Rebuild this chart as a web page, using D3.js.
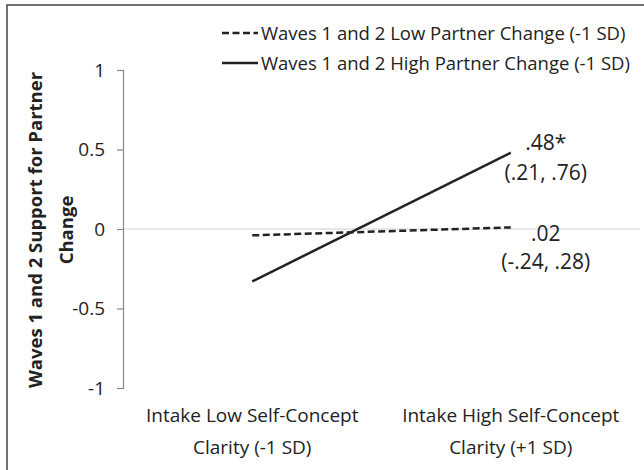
<!DOCTYPE html>
<html><head><meta charset="utf-8">
<script src="https://cdn.jsdelivr.net/npm/d3@7"></script>
<style>body{margin:0;background:#fff}svg{display:block}text{font-family:"Open Sans",sans-serif;fill:#222}</style>
</head><body><svg id="c" width="644" height="470"></svg>
<script>
const categories = ["Intake Low Self-Concept|Clarity (-1 SD)", "Intake High Self-Concept|Clarity (+1 SD)"];
const seriesNames = ["Waves 1 and 2 Low Partner Change (-1 SD)", "Waves 1 and 2 High Partner Change (-1 SD)"];
const lowChange = [-0.04, 0.01];
const highChange = [-0.33, 0.48];
const labelLow = [".02", "(-.24, .28)"];
const labelHigh = [".48*", "(.21, .76)"];
const yTicks = [-1, -0.5, 0, 0.5, 1];
const yTickLabels = ["-1", "-0.5", "0", "0.5", "1"];

const svg = d3.select("#c");
svg.append("rect").attr("x",7).attr("y",5).attr("width",700).attr("height",500)
  .attr("fill","none").attr("stroke","#444").attr("stroke-width",1.5);

const x = d3.scalePoint().domain(categories).range([123, 640]).padding(0.5);
const y = d3.scaleLinear().domain([-1, 1]).range([388, 70]);

svg.append("line").attr("x1",123).attr("x2",640).attr("y1",y(0)).attr("y2",y(0))
  .attr("stroke","#d0d0d0").attr("stroke-width",1.2);

const yAxis = svg.append("g").attr("transform","translate(123,0)")
  .call(d3.axisLeft(y).tickValues(yTicks).tickSize(6).tickPadding(12)
    .tickFormat((d,i)=>yTickLabels[i]));
yAxis.select(".domain").attr("stroke","#888").attr("stroke-width",1.2);
yAxis.selectAll(".tick line").attr("stroke","#888").attr("stroke-width",1.2);
yAxis.selectAll(".tick text").style("font-size","19px").attr("fill","#222").style("font-family","'Open Sans',sans-serif");

const yt = svg.append("text").attr("transform","translate(0,230) rotate(-90)")
  .attr("text-anchor","middle").style("font-size","18.5px").style("font-weight","bold");
yt.append("tspan").attr("x",0).attr("y",42).text("Waves 1 and 2 Support for Partner");
yt.append("tspan").attr("x",0).attr("y",73).text("Change");

categories.forEach(c => {
  const t = svg.append("text").attr("text-anchor","middle").style("font-size","19px");
  c.split("|").forEach((s,i)=> t.append("tspan").attr("x",x(c)).attr("y",422+i*32).text(s));
});

const line = d3.line().x((d,i)=>x(categories[i])).y(d=>y(d));
svg.append("path").datum(lowChange).attr("d",line).attr("fill","none")
  .attr("stroke","#222").attr("stroke-width",2.5).attr("stroke-dasharray","7,3.5");
svg.append("path").datum(highChange).attr("d",line).attr("fill","none")
  .attr("stroke","#222").attr("stroke-width",2.5);

const lx = x(categories[1]) + 35;
const hl = svg.append("text").attr("text-anchor","middle").style("font-size","21px");
hl.append("tspan").attr("x",lx).attr("y",y(highChange[1])-3).text(labelHigh[0]);
hl.append("tspan").attr("x",lx).attr("y",y(highChange[1])+27).text(labelHigh[1]);
const ll = svg.append("text").attr("text-anchor","middle").style("font-size","21px");
ll.append("tspan").attr("x",lx).attr("y",y(lowChange[1])+14).text(labelLow[0]);
ll.append("tspan").attr("x",lx).attr("y",y(lowChange[1])+42).text(labelLow[1]);

const leg = [{n:seriesNames[0],dash:"7,3.5",y:33},{n:seriesNames[1],dash:null,y:63}];
leg.forEach(l=>{
  svg.append("line").attr("x1",222).attr("x2",258).attr("y1",l.y).attr("y2",l.y)
    .attr("stroke","#222").attr("stroke-width",2.5).attr("stroke-dasharray",l.dash);
  svg.append("text").attr("x",261).attr("y",l.y+7).style("font-size","18.5px").text(l.n);
});
</script></body></html>
